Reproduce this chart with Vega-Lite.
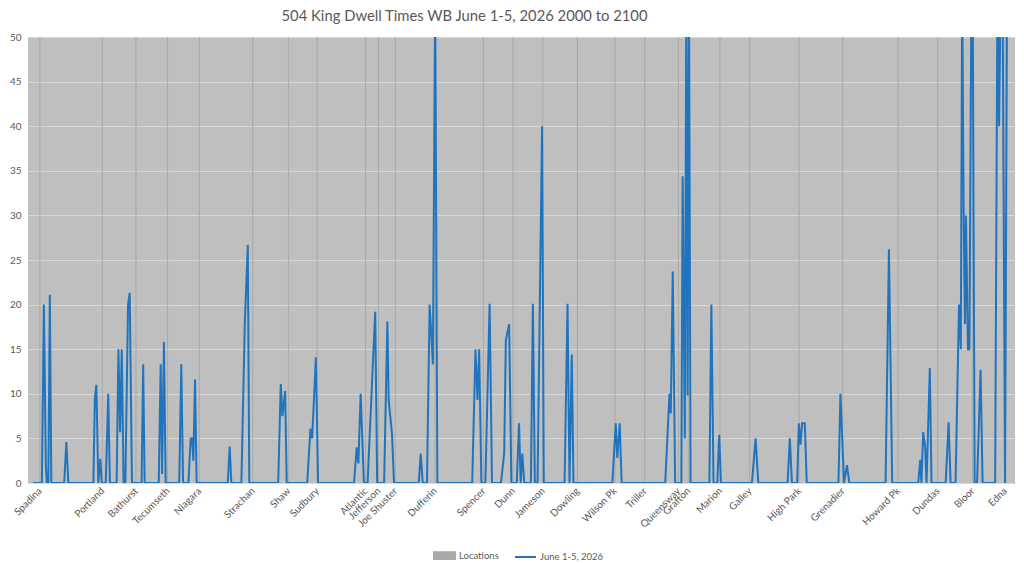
{
  "$schema": "https://vega.github.io/schema/vega-lite/v6.json",
  "description": "504 King dwell times westbound, June 1-5 2026, 2000 to 2100",
  "width": 987,
  "height": 446,
  "autosize": {"type": "none"},
  "padding": {"left": 28, "top": 37, "right": 9, "bottom": 80},
  "title": {
    "text": "504 King Dwell Times WB June 1-5, 2026 2000 to 2100",
    "font": "Lato",
    "fontSize": 14.8,
    "fontWeight": "normal",
    "color": "#595959",
    "anchor": "middle",
    "dx": -57,
    "baseline": "alphabetic",
    "offset": 18,
    "dy": 22
  },
  "datasets": {
    "locations": [
      {"loc": "Spadina", "pos": 7, "value": 50},
      {"loc": "Portland", "pos": 70, "value": 50},
      {"loc": "Bathurst", "pos": 104, "value": 50},
      {"loc": "Tecumseth", "pos": 136, "value": 50},
      {"loc": "Niagara", "pos": 168, "value": 50},
      {"loc": "Strachan", "pos": 222, "value": 50},
      {"loc": "Shaw", "pos": 258, "value": 50},
      {"loc": "Sudbury", "pos": 287, "value": 50},
      {"loc": "Atlantic", "pos": 336, "value": 50},
      {"loc": "Jefferson", "pos": 349, "value": 50},
      {"loc": "Joe Shuster", "pos": 366, "value": 50},
      {"loc": "Dufferin", "pos": 406, "value": 50},
      {"loc": "Spencer", "pos": 455, "value": 50},
      {"loc": "Dunn", "pos": 485, "value": 50},
      {"loc": "Jameson", "pos": 515, "value": 50},
      {"loc": "Dowling", "pos": 550, "value": 50},
      {"loc": "Wilson Pk", "pos": 588, "value": 50},
      {"loc": "Triller", "pos": 618, "value": 50},
      {"loc": "Queensway", "pos": 652, "value": 50},
      {"loc": "Grafton", "pos": 662, "value": 50},
      {"loc": "Marion", "pos": 694, "value": 50},
      {"loc": "Galley", "pos": 724, "value": 50},
      {"loc": "High Park", "pos": 774, "value": 50},
      {"loc": "Grenadier", "pos": 818, "value": 50},
      {"loc": "Howard Pk", "pos": 874, "value": 50},
      {"loc": "Dundas", "pos": 914, "value": 50},
      {"loc": "Bloor", "pos": 949, "value": 50},
      {"loc": "Edna", "pos": 982, "value": 50}
    ],
    "dwell": [
      {"pos": 0, "value": 0},
      {"pos": 9, "value": 0}, {"pos": 11, "value": 20}, {"pos": 13, "value": 2}, {"pos": 14, "value": 0},
      {"pos": 15.5, "value": 0}, {"pos": 17, "value": 21.1}, {"pos": 18.5, "value": 0},
      {"pos": 31.5, "value": 0}, {"pos": 33.7, "value": 4.6}, {"pos": 35.7, "value": 0},
      {"pos": 61, "value": 0}, {"pos": 62.5, "value": 9.5}, {"pos": 64, "value": 11}, {"pos": 66, "value": 0},
      {"pos": 68, "value": 2.7}, {"pos": 69.5, "value": 0}, {"pos": 73.5, "value": 0}, {"pos": 76, "value": 10}, {"pos": 77.7, "value": 0},
      {"pos": 84.5, "value": 0}, {"pos": 86.3, "value": 15}, {"pos": 88, "value": 5.7}, {"pos": 89.7, "value": 15},
      {"pos": 91.5, "value": 0}, {"pos": 92.3, "value": 1}, {"pos": 93.3, "value": 0}, {"pos": 96, "value": 20},
      {"pos": 97.7, "value": 21.3}, {"pos": 100, "value": 0},
      {"pos": 109.7, "value": 0}, {"pos": 111.3, "value": 13.3}, {"pos": 112.8, "value": 0},
      {"pos": 127, "value": 0}, {"pos": 129, "value": 13.3}, {"pos": 130.4, "value": 1}, {"pos": 132.3, "value": 15.8}, {"pos": 134, "value": 0},
      {"pos": 147.7, "value": 0}, {"pos": 149.8, "value": 13.3}, {"pos": 151.6, "value": 0},
      {"pos": 157, "value": 0}, {"pos": 159.3, "value": 5}, {"pos": 160.7, "value": 5}, {"pos": 162, "value": 2.5},
      {"pos": 163.7, "value": 11.6}, {"pos": 165.3, "value": 0},
      {"pos": 196.8, "value": 0}, {"pos": 198.7, "value": 4.1}, {"pos": 200.4, "value": 0},
      {"pos": 210.5, "value": 0}, {"pos": 214, "value": 18}, {"pos": 217, "value": 26.7}, {"pos": 218.5, "value": 0},
      {"pos": 247.7, "value": 0}, {"pos": 250.3, "value": 11.1}, {"pos": 252, "value": 7.5}, {"pos": 254.7, "value": 10.3}, {"pos": 256.3, "value": 0},
      {"pos": 277, "value": 0}, {"pos": 280.3, "value": 6.1}, {"pos": 282, "value": 5}, {"pos": 285.8, "value": 14.1}, {"pos": 288, "value": 0},
      {"pos": 324.3, "value": 0}, {"pos": 327, "value": 4}, {"pos": 328.7, "value": 2.2}, {"pos": 331, "value": 10}, {"pos": 334.3, "value": 0},
      {"pos": 338, "value": 0}, {"pos": 345.7, "value": 19.2}, {"pos": 347.7, "value": 0},
      {"pos": 354.7, "value": 0}, {"pos": 358, "value": 18.1}, {"pos": 359.3, "value": 9.3}, {"pos": 362.7, "value": 5.5}, {"pos": 364.7, "value": 0},
      {"pos": 389.7, "value": 0}, {"pos": 391.7, "value": 3.3}, {"pos": 393.7, "value": 0},
      {"pos": 398, "value": 0}, {"pos": 400.7, "value": 20}, {"pos": 404, "value": 13.3}, {"pos": 406.3, "value": 55}, {"pos": 408.5, "value": 0},
      {"pos": 443.7, "value": 0}, {"pos": 447, "value": 15}, {"pos": 449, "value": 9.3}, {"pos": 450.7, "value": 15}, {"pos": 453, "value": 0},
      {"pos": 457, "value": 0}, {"pos": 461.3, "value": 20.1}, {"pos": 463.7, "value": 0},
      {"pos": 472.7, "value": 0}, {"pos": 476, "value": 3.3}, {"pos": 477.7, "value": 16}, {"pos": 481, "value": 17.8}, {"pos": 483.3, "value": 0},
      {"pos": 488.7, "value": 0}, {"pos": 491, "value": 6.7}, {"pos": 492.7, "value": 0}, {"pos": 494.3, "value": 3.3}, {"pos": 496.3, "value": 0},
      {"pos": 503, "value": 0}, {"pos": 505, "value": 20.1}, {"pos": 507, "value": 0},
      {"pos": 509.7, "value": 0}, {"pos": 514.3, "value": 40}, {"pos": 516, "value": 0},
      {"pos": 537, "value": 0}, {"pos": 540, "value": 20.1}, {"pos": 542, "value": 0}, {"pos": 544.3, "value": 14.4}, {"pos": 546, "value": 0},
      {"pos": 585.3, "value": 0}, {"pos": 588.7, "value": 6.7}, {"pos": 590.3, "value": 2.8}, {"pos": 592.7, "value": 6.7}, {"pos": 594.7, "value": 0},
      {"pos": 638.7, "value": 0}, {"pos": 643, "value": 10}, {"pos": 644.3, "value": 7.8}, {"pos": 646.3, "value": 23.7}, {"pos": 648.7, "value": 0},
      {"pos": 655, "value": 0}, {"pos": 656.3, "value": 34.4}, {"pos": 658.5, "value": 5}, {"pos": 660, "value": 55},
      {"pos": 661.3, "value": 9.8}, {"pos": 662.7, "value": 55}, {"pos": 664.3, "value": 0},
      {"pos": 683.3, "value": 0}, {"pos": 685.3, "value": 20}, {"pos": 687.5, "value": 0},
      {"pos": 691.3, "value": 0}, {"pos": 693.2, "value": 5.4}, {"pos": 695, "value": 0},
      {"pos": 726.3, "value": 0}, {"pos": 730, "value": 5}, {"pos": 732.7, "value": 0},
      {"pos": 762.3, "value": 0}, {"pos": 764.6, "value": 5}, {"pos": 766.7, "value": 0},
      {"pos": 772, "value": 0}, {"pos": 773.7, "value": 6.7}, {"pos": 775.3, "value": 4.3}, {"pos": 777, "value": 6.7},
      {"pos": 779.7, "value": 6.7}, {"pos": 781.7, "value": 0},
      {"pos": 813.7, "value": 0}, {"pos": 815.7, "value": 10}, {"pos": 819.3, "value": 0}, {"pos": 822.3, "value": 2}, {"pos": 824.7, "value": 0},
      {"pos": 861.3, "value": 0}, {"pos": 864.7, "value": 26.2}, {"pos": 868, "value": 0},
      {"pos": 894.3, "value": 0}, {"pos": 896.3, "value": 2.6}, {"pos": 897.5, "value": 0}, {"pos": 899.3, "value": 5.7},
      {"pos": 901.3, "value": 4}, {"pos": 902.7, "value": 0}, {"pos": 906, "value": 12.9}, {"pos": 907.7, "value": 0},
      {"pos": 922, "value": 0}, {"pos": 925, "value": 6.8}, {"pos": 927, "value": 0},
      {"pos": 932, "value": 0}, {"pos": 935.5, "value": 20}, {"pos": 937.3, "value": 15}, {"pos": 938.7, "value": 55},
      {"pos": 940.2, "value": 30}, {"pos": 941.5, "value": 17.8}, {"pos": 942.5, "value": 30}, {"pos": 944.5, "value": 15},
      {"pos": 946, "value": 15}, {"pos": 948, "value": 55}, {"pos": 949.3, "value": 55}, {"pos": 951.3, "value": 0},
      {"pos": 953.7, "value": 0}, {"pos": 957.3, "value": 12.7}, {"pos": 959.3, "value": 0},
      {"pos": 972, "value": 0}, {"pos": 974.3, "value": 55}, {"pos": 976, "value": 40}, {"pos": 977.5, "value": 55},
      {"pos": 979.5, "value": 55}, {"pos": 982, "value": 0}, {"pos": 984, "value": 55}, {"pos": 986, "value": 55}
    ]
  },
  "encoding": {
    "x": {
      "field": "pos",
      "type": "quantitative",
      "scale": {"domain": [0, 987], "nice": false, "zero": false},
      "axis": {
        "title": null,
        "grid": false,
        "domain": false,
        "ticks": false,
        "labelAngle": -45,
        "labelAlign": "right",
        "labelBaseline": "middle",
        "labelPadding": 6,
        "labelFlush": false,
        "labelOverlap": false,
        "values": [7, 70, 104, 136, 168, 222, 258, 287, 336, 349, 366, 406, 455, 485, 515, 550, 588, 618, 652, 662, 694, 724, 774, 818, 874, 914, 949, 982],
        "labelExpr": "{'7':'Spadina','70':'Portland','104':'Bathurst','136':'Tecumseth','168':'Niagara','222':'Strachan','258':'Shaw','287':'Sudbury','336':'Atlantic','349':'Jefferson','366':'Joe Shuster','406':'Dufferin','455':'Spencer','485':'Dunn','515':'Jameson','550':'Dowling','588':'Wilson Pk','618':'Triller','652':'Queensway','662':'Grafton','694':'Marion','724':'Galley','774':'High Park','818':'Grenadier','874':'Howard Pk','914':'Dundas','949':'Bloor','982':'Edna'}[datum.value]"
      }
    },
    "y": {
      "field": "value",
      "type": "quantitative",
      "scale": {"domain": [0, 50], "nice": false},
      "axis": {
        "title": null,
        "domain": false,
        "ticks": false,
        "values": [0, 5, 10, 15, 20, 25, 30, 35, 40, 45, 50],
        "labelPadding": 7,
        "gridColor": "#D9D9D9",
        "gridWidth": 1.2
      }
    }
  },
  "layer": [
    {
      "data": {"name": "locations"},
      "mark": {"type": "bar", "size": 1},
      "encoding": {
        "color": {
          "datum": "Locations",
          "scale": {"domain": ["Locations", "June 1-5, 2026"], "range": ["#A9A9A9", "#2074BE"]},
          "legend": {
            "orient": "none",
            "legendX": 405,
            "legendY": 507,
            "direction": "horizontal",
            "title": null,
            "labelFont": "Lato",
            "labelFontSize": 9.5,
            "labelColor": "#595959",
            "symbolSize": 440,
            "labelOffset": 3,
            "columnPadding": 12,
            "encode": {
              "symbols": {
                "update": {
                  "shape": {"signal": "datum.value === 'Locations' ? 'M-1,-0.32H1V0.32H-1Z' : 'stroke'"},
                  "fill": {"signal": "datum.value === 'Locations' ? '#A9A9A9' : 'transparent'"},
                  "stroke": {"signal": "datum.value === 'Locations' ? 'transparent' : '#2074BE'"},
                  "strokeWidth": {"value": 2},
                  "opacity": {"value": 1}
                }
              }
            }
          }
        }
      }
    },
    {
      "data": {"name": "dwell"},
      "mark": {"type": "line", "strokeWidth": 2, "clip": true},
      "encoding": {"color": {"datum": "June 1-5, 2026"}}
    }
  ],
  "config": {
    "view": {"fill": "#BFBFBF", "stroke": null},
    "axis": {"labelFont": "Lato", "labelFontSize": 10, "labelColor": "#595959"}
  }
}
